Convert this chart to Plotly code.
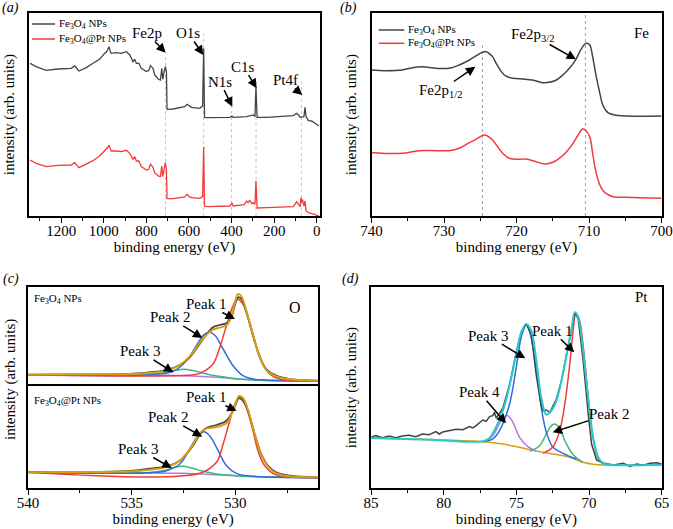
import plotly.graph_objects as go

# ---------------- (a) survey spectra ----------------
a_be_fe3o4 = [1346, 1318, 1271, 1216, 1153, 1137, 1117, 1082, 1051, 1020, 996, 988, 981, 976, 969,
              965, 941, 918, 894, 878, 863, 855, 847, 835, 824, 800, 789, 781, 769, 761,
              745, 734, 728, 723, 717, 711, 706, 703, 675, 643, 620, 609, 599, 588, 549,
              536, 531, 527, 518, 408, 398, 392, 329, 298, 290, 285.5, 280, 235, 110, 94,
              86, 78, 60, 55, 50, 39, 24, 8, -11]
a_fe3o4 = [458, 448, 437, 441, 443, 450, 435, 445, 458, 470, 488, 492, 500, 508, 492,
           488, 490, 488, 493, 483, 463, 470, 458, 458, 443, 433, 436, 451, 443, 423,
           411, 408, 443, 410, 433, 448, 433, 320, 321, 324, 328, 335, 330, 326, 323,
           330, 503, 296, 295, 296, 300, 296, 298, 303, 298, 386, 296, 296, 301, 308,
           303, 296, 298, 326, 298, 286, 285, 278, 270]
a_be_pt = [1346, 1318, 1271, 1216, 1153, 1137, 1117, 1082, 1051, 1020, 996, 988, 981, 976, 969,
           965, 941, 918, 894, 878, 863, 855, 847, 835, 824, 800, 789, 781, 769, 761,
           745, 734, 728, 723, 717, 711, 706, 703, 675, 643, 620, 609, 599, 588, 549,
           536, 531, 527, 518, 408, 398, 392, 340, 329, 322, 315, 305, 298, 290, 285.5,
           280, 235, 110, 94, 86, 78, 74, 71, 67, 60, 55, 50, 39, 24, 8, -11]
a_pt = [168, 158, 148, 152, 153, 160, 145, 155, 166, 180, 196, 200, 206, 212, 198,
        195, 195, 193, 197, 188, 170, 178, 165, 165, 148, 138, 140, 155, 147, 130,
        120, 118, 150, 118, 140, 160, 140, 52, 52, 54, 57, 65, 58, 55, 53,
        58, 208, 30, 28, 30, 38, 30, 34, 45, 40, 48, 37, 40, 35, 105,
        24, 25, 28, 43, 35, 28, 55, 40, 50, 30, 45, 15, 10, 8, 4, 0]
a_lines = [710, 531, 400, 285, 72]          # dotted marker lines (eV)
a_line_tops = [0.79, 0.90, 0.54, 0.67, 0.67]

# ---------------- (b) Fe 2p ----------------
b_be_fe3o4 = [740, 738.1, 735.8, 734.4, 733.0, 731.1, 729.3, 727.9, 726.5, 725.6, 724.7, 724.2,
              723.8, 723.3, 722.8, 722.1, 721.5, 720.5, 719.1, 717.8, 716.4, 715.5, 714.5,
              713.6, 712.7, 711.8, 711.1, 710.4, 709.9, 709.5, 709.0, 708.5, 708.1, 707.4,
              706.5, 704.8, 700]
b_fe3o4 = [438, 436, 438, 445, 448, 443, 443, 453, 468, 480, 491, 493,
           488, 478, 458, 433, 420, 413, 411, 408, 400, 401, 408,
           423, 443, 470, 500, 518, 513, 478, 418, 368, 333, 310,
           303, 300, 300]
b_be_pt = [740, 735.8, 733.5, 731.1, 729.3, 727.9, 726.5, 725.6, 724.5, 724.0, 723.3, 722.6,
           721.9, 721.0, 719.6, 718.7, 717.3, 716.1, 715.0, 714.1, 713.1, 712.2, 711.5,
           710.9, 710.5, 709.9, 709.5, 709.0, 708.4, 707.8, 706.7, 704.8, 700]
b_pt = [190, 188, 196, 196, 196, 203, 220, 230, 243, 240, 228, 208,
        188, 173, 170, 171, 163, 156, 161, 173, 193, 218, 243,
        261, 258, 238, 188, 128, 88, 70, 58, 56, 53]
b_lines = [724.7, 710.5]
b_line_tops = [0.85, 1.0]

# ---------------- (c) O 1s, Fe3O4 NPs (upper) ----------------
c1_be_bg = [540, 534.93, 532.52, 530.91, 529.31, 527.70, 526.02]
c1_bg = [33, 32, 30, 25, 18, 15, 14]
c1_be_data = [540, 536.53, 534.93, 534.13, 533.32, 532.68, 532.20, 531.72, 531.40, 531.08, 530.75,
              530.43, 530.19, 530.03, 529.87, 529.71, 529.47, 529.15, 528.83, 528.51, 528.03,
              527.38, 526.02]
c1_data = [33, 34, 36, 40, 47, 62, 85, 125, 153, 175, 182, 187, 205, 240, 265, 260, 220, 150, 87,
           50, 30, 20, 15]
c1_env = [33, 34, 35, 38, 45, 62, 88, 128, 152, 168, 174, 181, 207, 247, 275, 268, 225, 153, 87,
          47, 28, 19, 15]
c1_be_p1 = [540, 532.36, 531.72, 531.08, 530.75, 530.43, 530.11, 529.92, 529.63, 529.31, 528.99,
            528.67, 528.35, 527.87, 526.02]
c1_p1 = [33, 31, 37, 65, 115, 180, 240, 260, 245, 190, 120, 65, 35, 20, 14]
c1_be_p2 = [540, 534.13, 533.0, 532.36, 531.88, 531.56, 531.28, 531.00, 530.59, 530.11, 529.63,
            529.15, 528.51, 526.02]
c1_p2 = [33, 33, 43, 75, 120, 150, 160, 152, 110, 60, 30, 20, 17, 14]
c1_be_p3 = [540, 534.93, 533.64, 533.0, 532.44, 531.88, 531.24, 530.43, 529.31, 526.02]
c1_p3 = [33, 33, 37, 45, 49, 43, 33, 25, 18, 14]

# ---------------- (c) O 1s, Fe3O4@Pt NPs (lower) ----------------
c2_be_bg = [540, 534.93, 532.52, 530.91, 529.31, 527.70, 526.02]
c2_bg = [47, 46, 44, 40, 35, 32, 31]
c2_be_data = [540, 536.53, 534.93, 534.13, 533.32, 532.68, 532.04, 531.72, 531.40, 530.91, 530.43,
              530.11, 529.82, 529.63, 529.39, 529.07, 528.75, 528.43, 528.03, 527.38, 526.02]
c2_data = [47, 48, 52, 58, 65, 82, 127, 160, 180, 189, 202, 232, 270, 264, 232, 162, 102, 67, 47,
           37, 32]
c2_env = [47, 48, 50, 55, 63, 82, 130, 164, 178, 183, 194, 232, 276, 270, 235, 162, 100, 64, 44,
          35, 32]
c2_be_p1 = [540, 531.72, 530.91, 530.59, 530.27, 530.03, 529.82, 529.55, 529.23, 528.91, 528.59,
            528.19, 527.70, 526.02]
c2_p1 = [47, 44, 77, 132, 202, 252, 269, 252, 192, 112, 67, 44, 35, 31]
c2_be_p2 = [540, 534.13, 533.32, 532.68, 532.20, 531.80, 531.52, 531.24, 530.83, 530.43, 529.95,
            529.47, 528.51, 526.02]
c2_p2 = [47, 46, 52, 72, 117, 157, 169, 157, 112, 67, 44, 37, 33, 31]
c2_be_p3 = [540, 534.93, 534.29, 533.48, 532.92, 532.55, 532.12, 531.56, 530.91, 529.79, 526.02]
c2_p3 = [47, 46, 46, 52, 62, 65, 60, 50, 42, 36, 31]

# ---------------- (d) Pt 4f ----------------
d_be_data = [85.00, 84.68, 84.22, 83.76, 83.30, 82.84, 82.38, 81.92, 81.46, 81.00, 80.54, 80.31,
             80.07, 79.61, 79.15, 78.69, 78.23, 78.00, 77.77, 77.31, 77.08, 76.85, 76.62, 76.51,
             76.39, 76.16, 75.93, 75.47, 75.01, 74.67, 74.32, 73.98, 73.63, 73.29, 73.17, 72.94,
             72.71, 72.59, 72.25, 71.90, 71.56, 71.21, 70.98, 70.75, 70.41, 70.06, 69.83, 69.49,
             69.03, 68.34, 67.65, 67.19, 66.73, 66.27, 65.81, 65.35, 65.00]
d_data = [152, 157, 151, 156, 151, 156, 158, 154, 162, 160, 169, 162,
          168, 172, 176, 175, 184, 180, 187, 204, 200, 214, 217, 227,
          210, 224, 240, 310, 407, 467, 492, 462, 337, 247, 232, 234,
          227, 237, 267, 322, 400, 482, 527, 507, 382, 222, 132, 84,
          75, 69, 74, 65, 72, 68, 74, 76, 72]
d_be_env = [85.00, 80.54, 77.31, 76.85, 76.39, 75.93, 75.47, 75.01, 74.67, 74.32, 73.98, 73.63,
            73.29, 72.94, 72.59, 72.25, 71.90, 71.56, 71.21, 70.98, 70.75, 70.41, 70.06, 69.72,
            69.37, 69.03, 68.34, 65.00]
d_env = [150, 144, 140, 150, 184, 232, 307, 402, 467, 492, 472, 382,
         272, 220, 232, 262, 322, 397, 477, 527, 512, 412, 267, 152,
         92, 74, 69, 70]
d_be_bg = [85.00, 80.54, 77.31, 75.93, 74.78, 73.63, 72.48, 71.33, 70.41, 69.72, 69.03, 65.00]
d_bg = [150, 145, 139, 132, 122, 111, 102, 92, 77, 71, 69, 69]
d_be_p1 = [73.17, 72.48, 72.02, 71.67, 71.33, 71.10, 70.91, 70.68, 70.41, 70.06, 69.72, 69.37, 69.03]
d_p1 = [104, 124, 172, 252, 372, 472, 522, 507, 427, 272, 147, 87, 72]
d_be_p2 = [74.09, 73.40, 72.94, 72.59, 72.36, 72.07, 71.56, 71.10, 70.41]
d_p2 = [110, 127, 162, 187, 192, 182, 132, 100, 77]
d_be_p3 = [77.31, 76.62, 76.16, 75.47, 75.01, 74.67, 74.32, 73.98, 73.63, 73.29, 72.94, 72.48,
           71.79, 70.87]
d_p3 = [139, 147, 172, 252, 362, 452, 490, 450, 352, 242, 167, 122, 104, 87]
d_be_p4 = [77.31, 76.62, 76.16, 75.82, 75.59, 75.24, 74.78, 74.21, 73.63]
d_p4 = [139, 157, 194, 214, 217, 197, 152, 124, 111]

series_names = ["Fe<sub>3</sub>O<sub>4</sub> NPs", "Fe<sub>3</sub>O<sub>4</sub>@Pt NPs"]

# ---------------- styling ----------------
W, H = 673, 529
FONT = "Liberation Serif, Times New Roman, DejaVu Serif, serif"
C_BLACK = "#444444"
C_RED = "#f23b3b"
C_BLUE = "#2c6fdc"
C_GREEN = "#3cb878"
C_PURPLE = "#b07ae6"
C_GOLD = "#d4a016"
C_CYAN = "#26c9cf"


def px(x):
    return x / W


def py(y):
    return 1 - y / H


fig = go.Figure()


def line(x, y, color, ax, width=1.5, shape="linear", name=None):
    fig.add_trace(go.Scatter(x=x, y=y, mode="lines", name=name, showlegend=False,
                             line=dict(color=color, width=width, shape=shape),
                             xaxis=ax[0], yaxis=ax[1], hoverinfo="skip"))


# (a)
line(a_be_fe3o4, a_fe3o4, C_BLACK, ("x", "y"), width=1.3, name=series_names[0])
line(a_be_pt, a_pt, C_RED, ("x", "y"), width=1.3, name=series_names[1])
# (b)
line(b_be_fe3o4, b_fe3o4, C_BLACK, ("x2", "y2"), shape="spline", name=series_names[0])
line(b_be_pt, b_pt, C_RED, ("x2", "y2"), shape="spline", name=series_names[1])
# (c) upper
ax = ("x3", "y3")
line(c1_be_bg, c1_bg, C_PURPLE, ax, shape="spline")
line(c1_be_p3, c1_p3, C_GREEN, ax, shape="spline")
line(c1_be_p2, c1_p2, C_BLUE, ax, shape="spline")
line(c1_be_p1, c1_p1, C_RED, ax, shape="spline")
line(c1_be_data, c1_data, C_BLACK, ax, width=1.8, shape="spline")
line(c1_be_data, c1_env, C_GOLD, ax, width=2, shape="spline")
# (c) lower
ax = ("x4", "y4")
line(c2_be_bg, c2_bg, C_PURPLE, ax, shape="spline")
line(c2_be_p3, c2_p3, C_GREEN, ax, shape="spline")
line(c2_be_p2, c2_p2, C_BLUE, ax, shape="spline")
line(c2_be_p1, c2_p1, C_RED, ax, shape="spline")
line(c2_be_data, c2_data, C_BLACK, ax, width=1.8, shape="spline")
line(c2_be_data, c2_env, C_GOLD, ax, width=2, shape="spline")
# (d)
ax = ("x5", "y5")
line(d_be_bg, d_bg, C_GOLD, ax, shape="spline")
line(d_be_p4, d_p4, C_PURPLE, ax, shape="spline")
line(d_be_p2, d_p2, C_GREEN, ax, shape="spline")
line(d_be_p3, d_p3, C_BLUE, ax, shape="spline")
line(d_be_p1, d_p1, C_RED, ax, shape="spline")
line(d_be_data, d_data, C_BLACK, ax, width=1.5)
line(d_be_env, d_env, C_CYAN, ax, width=2, shape="spline")

tickfont = dict(family=FONT, size=15, color="black")
titlefont = dict(family=FONT, size=15, color="black")


def xax(domain, anchor, rng, dtick, minor, title=None, labels=True):
    d = dict(domain=domain, anchor=anchor, range=rng, showgrid=False, zeroline=False,
             showline=True, mirror=True, linecolor="black", linewidth=1.5,
             tickfont=tickfont, tick0=0, dtick=dtick, fixedrange=True, automargin=False)
    if labels:
        d.update(ticks="outside", ticklen=5, tickwidth=1.3, tickcolor="black",
                 ticklabelstandoff=-5,
                 minor=dict(ticks="outside", ticklen=3, tickwidth=1.1, tickcolor="black",
                            dtick=minor, tick0=0))
        d["title"] = dict(text=title, font=titlefont, standoff=1)
    else:
        # upper half of a stacked pair: only the top frame line
        d.update(ticks="", showticklabels=False, side="top", mirror=False)
    return d


def yax(domain, anchor, rng, title=None, standoff=9):
    d = dict(domain=domain, anchor=anchor, range=rng, showgrid=False, zeroline=False,
             showline=True, mirror=True, linecolor="black", linewidth=1.5,
             ticks="", showticklabels=False, fixedrange=True, automargin=False)
    if title:
        d["title"] = dict(text=title, font=titlefont, standoff=standoff)
    return d


XA = [px(29.3), px(319.7)]
XB = [px(371.5), px(661.5)]
XC = [px(28), px(318.3)]
XD = [px(371), px(661.8)]
YTOP = [py(216), py(13.3)]
YC1 = [py(385.7), py(287.3)]
YC2 = [py(488), py(385.7)]
YD = [py(488), py(287.3)]
ytitle = "intensity (arb. units)"
xtitle = "binding energy (eV)"

layout_axes = dict(
    xaxis=xax(XA, "y", [1350, -14], 200, 100, xtitle),
    yaxis=yax(YTOP, "x", [0, 608], ytitle),
    xaxis2=xax(XB, "y2", [740, 700], 10, 5, xtitle),
    yaxis2=yax(YTOP, "x2", [0, 608], ytitle),
    xaxis3=xax(XC, "y3", [540, 526], 5, 2.5, labels=False),
    yaxis3=yax(YC1, "x3", [0, 295]),
    xaxis4=xax(XC, "y4", [540, 526], 5, 2.5, xtitle),
    yaxis4=yax(YC2, "x4", [0, 307]),
    xaxis5=xax(XD, "y5", [85, 65], 5, 2.5, xtitle),
    yaxis5=yax(YD, "x5", [0, 602], ytitle),
)

shapes = []
for xv, top in zip(a_lines, a_line_tops):
    shapes.append(dict(type="line", xref="x", yref="y domain", x0=xv, x1=xv, y0=0, y1=top,
                       line=dict(color="#c4c4c4", width=1, dash="dot"), layer="below"))
for xv, top in zip(b_lines, b_line_tops):
    shapes.append(dict(type="line", xref="x2", yref="y2 domain", x0=xv, x1=xv, y0=0, y1=top,
                       line=dict(color="#a0a0a0", width=1, dash="dot"), layer="below"))

annotations = []


def text(x, y, t, size=15, anchor="center", italic=False):
    if italic:
        t = "<i>" + t + "</i>"
    annotations.append(dict(x=px(x), y=py(y), xref="paper", yref="paper", text=t,
                            showarrow=False, xanchor=anchor, yanchor="middle",
                            font=dict(family=FONT, size=size, color="black")))


def label_arrow(t, tx, ty, hx, hy, size=15):
    """Label centred at (tx, ty) with an arrow pointing at (hx, hy)."""
    annotations.append(dict(x=px(hx), y=py(hy), xref="paper", yref="paper", text=t,
                            showarrow=True, ax=tx - hx, ay=ty - hy, arrowhead=2,
                            arrowsize=1.25, arrowwidth=1.5, arrowcolor="black",
                            borderpad=0, font=dict(family=FONT, size=size, color="black")))


# manual legends for (a) and (b)
def legend_entry(x0, x1, y, color, label):
    shapes.append(dict(type="line", xref="paper", yref="paper", x0=px(x0), x1=px(x1),
                       y0=py(y), y1=py(y), line=dict(color=color, width=1.5)))
    text(x1 + 1.5, y, label, size=11, anchor="left")


legend_entry(32, 55, 24, C_BLACK, series_names[0])
legend_entry(32, 55, 39, C_RED, series_names[1])
legend_entry(378.7, 404.3, 30, C_BLACK, series_names[0])
legend_entry(378.7, 404.3, 43.3, C_RED, series_names[1])

# panel letters
text(10, 8, "(a)", 14, italic=True)
text(348, 8, "(b)", 14, italic=True)
text(11, 279, "(c)", 14, italic=True)
text(350, 279, "(d)", 14, italic=True)

# (a) peak labels
label_arrow("Fe2p", 146.7, 33, 165.7, 52.7)
label_arrow("O1s", 188.3, 33, 203.3, 55)
label_arrow("N1s", 220, 81.7, 232.3, 106.7)
label_arrow("C1s", 243.3, 66.7, 256.7, 88.3)
label_arrow("Pt4f", 285, 80, 302.3, 95)

# (b)
text(641, 33, "Fe")
label_arrow("Fe2p<sub>3/2</sub>", 532.7, 35, 576, 59.3)
label_arrow("Fe2p<sub>1/2</sub>", 440, 91, 475.3, 66.7)

# (c)
text(31.7, 299, series_names[0], 11, anchor="left")
text(31.7, 400.7, series_names[1], 11, anchor="left")
text(295, 307.3, "O", 16)
label_arrow("Peak 1", 205.7, 304, 235, 319)
label_arrow("Peak 2", 170, 317.3, 202.3, 338)
label_arrow("Peak 3", 140, 351.3, 173.3, 372.3)
label_arrow("Peak 1", 205.7, 397.3, 236.7, 410.7)
label_arrow("Peak 2", 168.3, 417.3, 202.3, 436.7)
label_arrow("Peak 3", 138.3, 449, 171.7, 468)
annotations.append(dict(x=px(10), y=py(380), xref="paper", yref="paper", text=ytitle,
                        textangle=-90, showarrow=False, xanchor="center", yanchor="middle",
                        font=titlefont))

# (d)
text(641, 297.3, "Pt")
label_arrow("Peak 3", 487.7, 335.7, 525.3, 358.3)
label_arrow("Peak 1", 552, 330.7, 574.3, 352.3)
label_arrow("Peak 4", 479.3, 392.3, 506, 423.3)
label_arrow("Peak 2", 609.3, 414, 552.7, 432.3)

fig.update_layout(template="none", width=W, height=H, margin=dict(l=0, r=0, t=0, b=0, pad=0),
                  paper_bgcolor="white", plot_bgcolor="white", showlegend=False,
                  shapes=shapes, annotations=annotations,
                  font=dict(family=FONT, size=15, color="black"), **layout_axes)

fig.write_html("out.html", config={"displayModeBar": False},
               post_script="document.body.style.margin='0';document.body.style.overflow='hidden';")
